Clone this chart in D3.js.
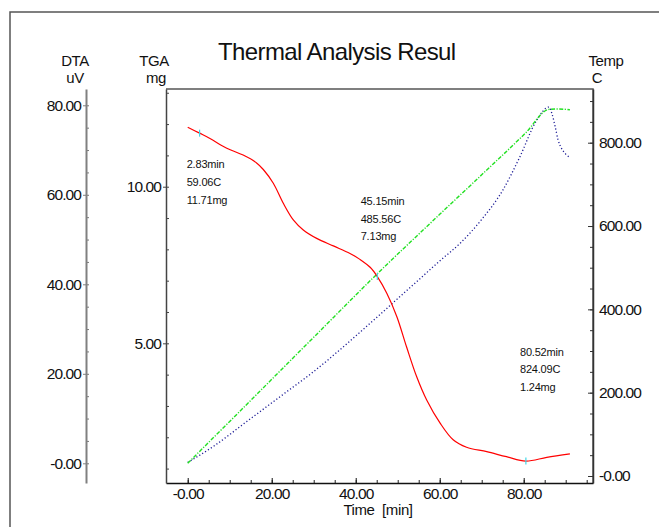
<!DOCTYPE html>
<html>
<head>
<meta charset="utf-8">
<script src="https://cdn.jsdelivr.net/npm/d3@7"></script>
<style>
body { margin: 0; background: #fff; }
text { font-family: "Liberation Sans", Arial, sans-serif; fill: #111; }
</style>
</head>
<body>
<div id="chart"></div>
<script>
// TGA curve: time [min] -> mass [mg]
const tgaTime = [0, 2.83, 5.3, 9.3, 13.2, 16.4, 18.0, 20.38, 22.76, 25.14, 27.52, 30.71, 34.67, 38.64, 41.0, 43.5, 45.15, 47.4, 49.8, 52.1, 54.5, 56.9, 60.1, 63.2, 66.4, 71.2, 75.9, 80.52, 85.5, 91.0];
const tgaMass = [11.90, 11.71, 11.54, 11.23, 11.01, 10.76, 10.55, 10.11, 9.47, 8.94, 8.62, 8.35, 8.11, 7.87, 7.68, 7.42, 7.13, 6.60, 5.85, 4.89, 3.94, 3.19, 2.45, 1.92, 1.68, 1.54, 1.38, 1.24, 1.36, 1.47];

// DTA curve: time [min] -> uV
const dtaTime = [0, 6, 14, 22, 30, 38, 45.6, 50, 55, 60, 65, 70, 75, 79, 83, 86.0, 86.7, 87.5, 88.2, 89, 90, 91];
const dtaVal = [0.2, 3.7, 9.3, 14.9, 20.5, 26.8, 33.1, 36.8, 41.0, 45.2, 49.3, 54.5, 61.0, 68.3, 76.5, 79.6, 78.2, 75.2, 72.2, 70.4, 69.1, 68.3];

// furnace temperature: time [min] -> C
const tempTime = [0, 2.83, 10, 20, 30, 45.15, 60, 70, 80.52, 86.0, 88, 91];
const tempVal = [30.5, 59.06, 131, 232, 333, 485.56, 628, 723, 824.09, 880, 881, 879];

// marked points
const markTime = [2.83, 45.15, 80.52];
const markTemp = [59.06, 485.56, 824.09];
const markMass = [11.71, 7.13, 1.24];

// tick values
const timeTicks = [0, 20, 40, 60, 80];
const dtaTicks = [0, 20, 40, 60, 80];
const tgaTicks = [5, 10];
const tempTicks = [0, 200, 400, 600, 800];

var w = 659, h = 527;
var plot = { left: 166, right: 593, top: 89, bottom: 483 };
var dtaAxisX = 86;

var svg = d3.select("#chart")
    .append("svg")
    .attr("width", w)
    .attr("height", h);

var x = d3.scaleLinear().domain([-5.17, 96.5]).range([plot.left, plot.right]);
var yTga = d3.scaleLinear().domain([0.54, 13.12]).range([plot.bottom, plot.top]);
var yDta = d3.scaleLinear().domain([-4.40, 83.64]).range([plot.bottom, plot.top]);
var yTemp = d3.scaleLinear().domain([-16.8, 928.9]).range([plot.bottom, plot.top]);

var fmt = v => (v === 0 ? "-0.00" : d3.format(".2f")(v));

// outer frame
svg.append("path")
    .attr("d", "M10," + h + "V12H" + w)
    .attr("fill", "none")
    .attr("stroke", "#555")
    .attr("stroke-width", 1.5);

// plot frame (top + right)
svg.append("path")
    .attr("d", `M${plot.left},${plot.top}H${plot.right}V${plot.bottom}`)
    .attr("fill", "none")
    .attr("stroke", "#555")
    .attr("stroke-width", 1.5);

// title
svg.append("text")
    .attr("x", 218)
    .attr("y", 60)
    .style("font-size", "24px")
    .style("letter-spacing", "-0.6px")
    .text("Thermal Analysis Resul");

function styleAxis(g, col, sw) {
    g.select(".domain").attr("stroke", col).attr("stroke-width", sw);
    g.selectAll(".tick line").attr("stroke", col).attr("stroke-width", 1);
    g.selectAll("text")
        .style("font-size", "15.5px")
        .style("letter-spacing", "-0.9px")
        .style("font-family", "'Liberation Sans', Arial, sans-serif")
        .attr("fill", "#111");
}

// time axis (bottom)
var xMinor = svg.append("g")
    .attr("transform", `translate(0,${plot.bottom})`)
    .call(d3.axisBottom(x).tickValues(d3.range(0, 96, 5)).tickSize(-3).tickFormat(""));
xMinor.select(".domain").remove();
xMinor.selectAll("line").attr("stroke", "#222");
var xAxis = svg.append("g")
    .attr("transform", `translate(0,${plot.bottom})`)
    .call(d3.axisBottom(x).tickValues(timeTicks).tickSizeInner(-5).tickSizeOuter(0).tickPadding(5).tickFormat(fmt));
styleAxis(xAxis, "#111", 1.5);

// TGA axis (plot left)
var tMinor = svg.append("g")
    .attr("transform", `translate(${plot.left},0)`)
    .call(d3.axisLeft(yTga).tickValues(d3.range(1, 14)).tickSize(-3).tickFormat(""));
tMinor.select(".domain").remove();
tMinor.selectAll("line").attr("stroke", "#444");
var tgaAxis = svg.append("g")
    .attr("transform", `translate(${plot.left},0)`)
    .call(d3.axisLeft(yTga).tickValues(tgaTicks).tickSizeInner(3).tickSizeOuter(0).tickPadding(2).tickFormat(fmt));
styleAxis(tgaAxis, "#444", 1.5);

// DTA axis (far left)
var dMinor = svg.append("g")
    .attr("transform", `translate(${dtaAxisX},0)`)
    .call(d3.axisLeft(yDta).tickValues(d3.range(0, 81, 5)).tickSize(-3).tickFormat(""));
dMinor.select(".domain").remove();
dMinor.selectAll("line").attr("stroke", "#777");
var dtaAxis = svg.append("g")
    .attr("transform", `translate(${dtaAxisX},0)`)
    .call(d3.axisLeft(yDta).tickValues(dtaTicks).tickSizeInner(3).tickSizeOuter(0).tickPadding(2).tickFormat(fmt));
styleAxis(dtaAxis, "#808080", 2);

// Temp axis (right)
var rMinor = svg.append("g")
    .attr("transform", `translate(${plot.right},0)`)
    .call(d3.axisRight(yTemp).tickValues(d3.range(0, 901, 50)).tickSize(-3).tickFormat(""));
rMinor.select(".domain").remove();
rMinor.selectAll("line").attr("stroke", "#333");
var tempAxis = svg.append("g")
    .attr("transform", `translate(${plot.right},0)`)
    .call(d3.axisRight(yTemp).tickValues(tempTicks).tickSizeInner(-5).tickSizeOuter(0).tickPadding(6).tickFormat(fmt));
styleAxis(tempAxis, "#333", 1.5);

// axis titles
var titles = [
    { t: "DTA", x: 75, y: 66 }, { t: "uV", x: 75, y: 83 },
    { t: "TGA", x: 154, y: 66 }, { t: "mg", x: 156, y: 83 },
    { t: "Temp", x: 606, y: 66 }, { t: "C", x: 597, y: 83 },
    { t: "Time  [min]", x: 378, y: 515 }
];
svg.append("g").selectAll("text")
    .data(titles)
    .enter()
    .append("text")
    .attr("x", d => d.x)
    .attr("y", d => d.y)
    .attr("text-anchor", "middle")
    .style("font-size", "15px")
    .style("letter-spacing", "-0.4px")
    .style("white-space", "pre")
    .text(d => d.t);

// curves
var tempLine = d3.line().x((d, i) => x(tempTime[i])).y(d => yTemp(d)).curve(d3.curveMonotoneX);
var dtaLine = d3.line().x((d, i) => x(dtaTime[i])).y(d => yDta(d)).curve(d3.curveMonotoneX);
var tgaLine = d3.line().x((d, i) => x(tgaTime[i])).y(d => yTga(d)).curve(d3.curveCatmullRom.alpha(0.5));

svg.append("path")
    .attr("d", dtaLine(dtaVal))
    .attr("fill", "none")
    .attr("stroke", "#1c1c96")
    .attr("stroke-width", 1.3)
    .attr("stroke-dasharray", "1.2,2.2");

svg.append("path")
    .attr("d", tempLine(tempVal))
    .attr("fill", "none")
    .attr("stroke", "#22e022")
    .attr("stroke-width", 1.4)
    .attr("stroke-dasharray", "4,1.5,1.2,1.5");

svg.append("path")
    .attr("d", tgaLine(tgaMass))
    .attr("fill", "none")
    .attr("stroke", "#ff0000")
    .attr("stroke-width", 1.2);

// markers
svg.append("g").selectAll("line")
    .data(markTime)
    .enter()
    .append("line")
    .attr("x1", d => x(d))
    .attr("x2", d => x(d))
    .attr("y1", (d, i) => yTga(markMass[i]) - 3.5)
    .attr("y2", (d, i) => yTga(markMass[i]) + 3.5)
    .attr("stroke", "#40d8e8")
    .attr("stroke-width", 1.2);

// annotation text blocks
var notePos = [[186.7, 168.3], [360.7, 205], [520, 355.7]];
markTime.forEach(function (t, i) {
    var lines = [d3.format(".2f")(t) + "min", d3.format(".2f")(markTemp[i]) + "C", d3.format(".2f")(markMass[i]) + "mg"];
    svg.append("g").selectAll("text")
        .data(lines)
        .enter()
        .append("text")
        .attr("x", notePos[i][0])
        .attr("y", (d, j) => notePos[i][1] + j * 17.6)
        .style("font-size", "11px")
        .style("letter-spacing", "-0.2px")
        .attr("fill", "#222")
        .text(d => d);
});
</script>
</body>
</html>
